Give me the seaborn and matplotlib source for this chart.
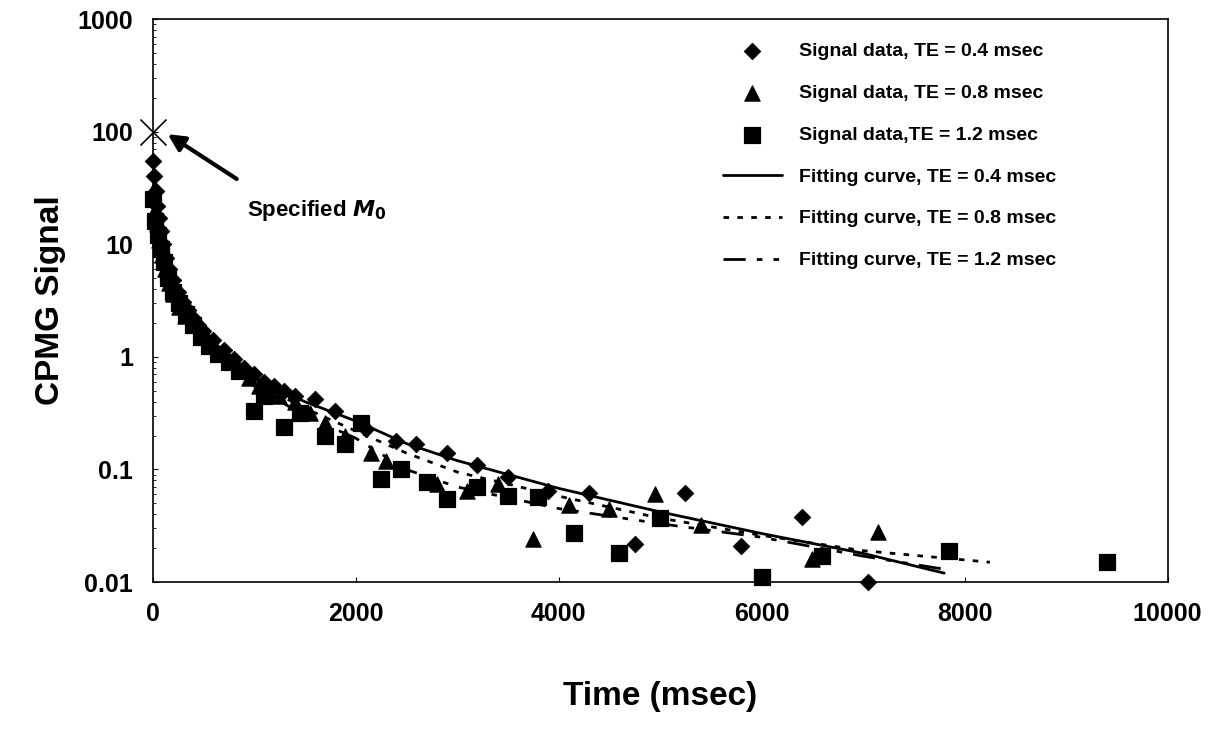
import numpy as np
import pandas as pd
import matplotlib
matplotlib.use("Agg")
import matplotlib.pyplot as plt
import seaborn as sns

sns.set_style("ticks")
plt.rcParams['font.family'] = ['Liberation Sans', 'DejaVu Sans']
plt.rcParams['font.weight'] = 'bold'
plt.rcParams['text.color'] = 'black'
plt.rcParams['axes.labelcolor'] = 'black'
plt.rcParams['xtick.color'] = 'black'
plt.rcParams['ytick.color'] = 'black'
plt.rcParams['axes.edgecolor'] = 'black'

# signal data
t_04 = [0, 15, 30, 45, 60, 80, 100, 130, 160, 200, 250, 300, 350, 400, 450, 500, 600, 700, 800, 900,
        1000, 1100, 1200, 1300, 1400, 1600, 1800, 2100, 2400, 2600, 2900, 3200, 3500, 3900, 4300,
        4750, 5250, 5800, 6400, 7050]
s_04 = [55, 40, 30, 22, 17, 13, 10, 7.5, 6, 4.8, 3.8, 3.1, 2.6, 2.2, 1.9, 1.7, 1.4, 1.15, 0.95, 0.8,
        0.7, 0.6, 0.55, 0.5, 0.45, 0.42, 0.33, 0.23, 0.18, 0.17, 0.14, 0.11, 0.085, 0.065, 0.062,
        0.022, 0.062, 0.021, 0.038, 0.01]
t_08 = [0, 20, 40, 60, 90, 120, 160, 200, 260, 320, 400, 480, 560, 650, 750, 850, 950, 1050, 1150,
        1250, 1400, 1550, 1700, 1900, 2150, 2300, 2800, 3100, 3400, 3750, 4100, 4500, 4950, 5400,
        6500, 7150]
s_08 = [30, 20, 15, 11, 8, 6, 4.5, 3.6, 2.8, 2.3, 1.9, 1.6, 1.35, 1.1, 0.9, 0.78, 0.65, 0.55, 0.5,
        0.45, 0.4, 0.32, 0.26, 0.2, 0.14, 0.12, 0.075, 0.065, 0.075, 0.024, 0.048, 0.045, 0.06,
        0.032, 0.016, 0.028]
t_12 = [0, 25, 50, 80, 110, 150, 200, 260, 330, 400, 480, 560, 650, 750, 850, 1000, 1100, 1300,
        1450, 1700, 1900, 2050, 2250, 2450, 2700, 2900, 3200, 3500, 3800, 4150, 4600, 5000, 6000,
        6600, 7850, 9400]
s_12 = [25, 16, 12, 9, 7, 5, 3.8, 3, 2.4, 1.9, 1.5, 1.25, 1.05, 0.9, 0.75, 0.33, 0.45, 0.24,
        0.32, 0.2, 0.17, 0.26, 0.083, 0.1, 0.077, 0.055, 0.07, 0.058, 0.057, 0.027, 0.018, 0.037,
        0.011, 0.017, 0.019, 0.015]

# fitting curves
ft_04 = [0, 50, 100, 200, 300, 500, 700, 1000, 1500, 2000, 2500, 3000, 4000, 5000, 6000, 7000, 7800]
fs_04 = [50, 14, 8, 4.5, 3, 1.6, 1.1, 0.65, 0.4, 0.27, 0.17, 0.12, 0.068, 0.042, 0.027, 0.018, 0.012]
ft_08 = [0, 50, 100, 200, 300, 500, 700, 1000, 1500, 2000, 2500, 3000, 4000, 5000, 6000, 7000, 8250]
fs_08 = [40, 12, 7, 4, 2.7, 1.5, 1.0, 0.6, 0.35, 0.22, 0.14, 0.095, 0.058, 0.037, 0.026, 0.019, 0.015]
ft_12 = [0, 50, 100, 200, 300, 500, 700, 1000, 1500, 2000, 2500, 3000, 4000, 5000, 6000, 7000, 7800]
fs_12 = [35, 11, 6.5, 3.8, 2.5, 1.4, 0.95, 0.55, 0.3, 0.19, 0.1, 0.07, 0.045, 0.033, 0.025, 0.017, 0.013]

fig = plt.figure(figsize=(12.2, 7.34), dpi=100)
ax = fig.add_axes([0.125, 0.207, 0.832, 0.767])

for t, s, m, ms, lab in [(t_04, s_04, 'D', 70, 'Signal data, TE = 0.4 msec'),
                         (t_08, s_08, '^', 120, 'Signal data, TE = 0.8 msec'),
                         (t_12, s_12, 's', 120, 'Signal data,TE = 1.2 msec')]:
    sns.scatterplot(x=t, y=s, marker=m, s=ms, color='black', edgecolor='black', label=lab, ax=ax,
                    zorder=3, clip_on=False)

for t, s, ls, lab in [(ft_04, fs_04, '-', 'Fitting curve, TE = 0.4 msec'),
                      (ft_08, fs_08, (0, (2, 3)), 'Fitting curve, TE = 0.8 msec'),
                      (ft_12, fs_12, (0, (8, 4, 2, 4, 2, 4)), 'Fitting curve, TE = 1.2 msec')]:
    sns.lineplot(x=t, y=s, color='black', lw=2, linestyle=ls, label=lab, ax=ax)

ax.scatter([0], [100], marker='x', s=350, color='black', lw=1.2, zorder=4, clip_on=False)
ax.annotate('', xy=(150, 95), xytext=(830, 38),
            arrowprops=dict(arrowstyle='-|>', color='black', lw=3, mutation_scale=25,
                            shrinkA=0, shrinkB=0))
ax.text(930, 20, 'Specified $\\boldsymbol{M}_0$', fontsize=16, fontweight='bold', ha='left', va='center')

ax.set_yscale('log')
ax.set_xlim(0, 10000)
ax.set_ylim(0.01, 1000)
ax.set_xticks([0, 2000, 4000, 6000, 8000, 10000])
ax.set_yticks([0.01, 0.1, 1, 10, 100, 1000])
ax.set_yticklabels(['0.01', '0.1', '1', '10', '100', '1000'])
ax.tick_params(axis='both', labelsize=18, direction='in', pad=14)
ax.tick_params(axis='y', which='minor', direction='in')
ax.set_xlabel('Time (msec)', fontsize=24, fontweight='bold', labelpad=40)
ax.set_ylabel('CPMG Signal', fontsize=24, fontweight='bold', labelpad=8)
for sp in ax.spines.values():
    sp.set_linewidth(1.2)

leg = ax.legend(loc='upper left', frameon=False, fontsize=14, handlelength=3,
                labelspacing=1.25, handletextpad=0.9, bbox_to_anchor=(0.545, 0.99))
for txt in leg.get_texts():
    txt.set_fontweight('bold')

fig.savefig('out.png', dpi=100)
